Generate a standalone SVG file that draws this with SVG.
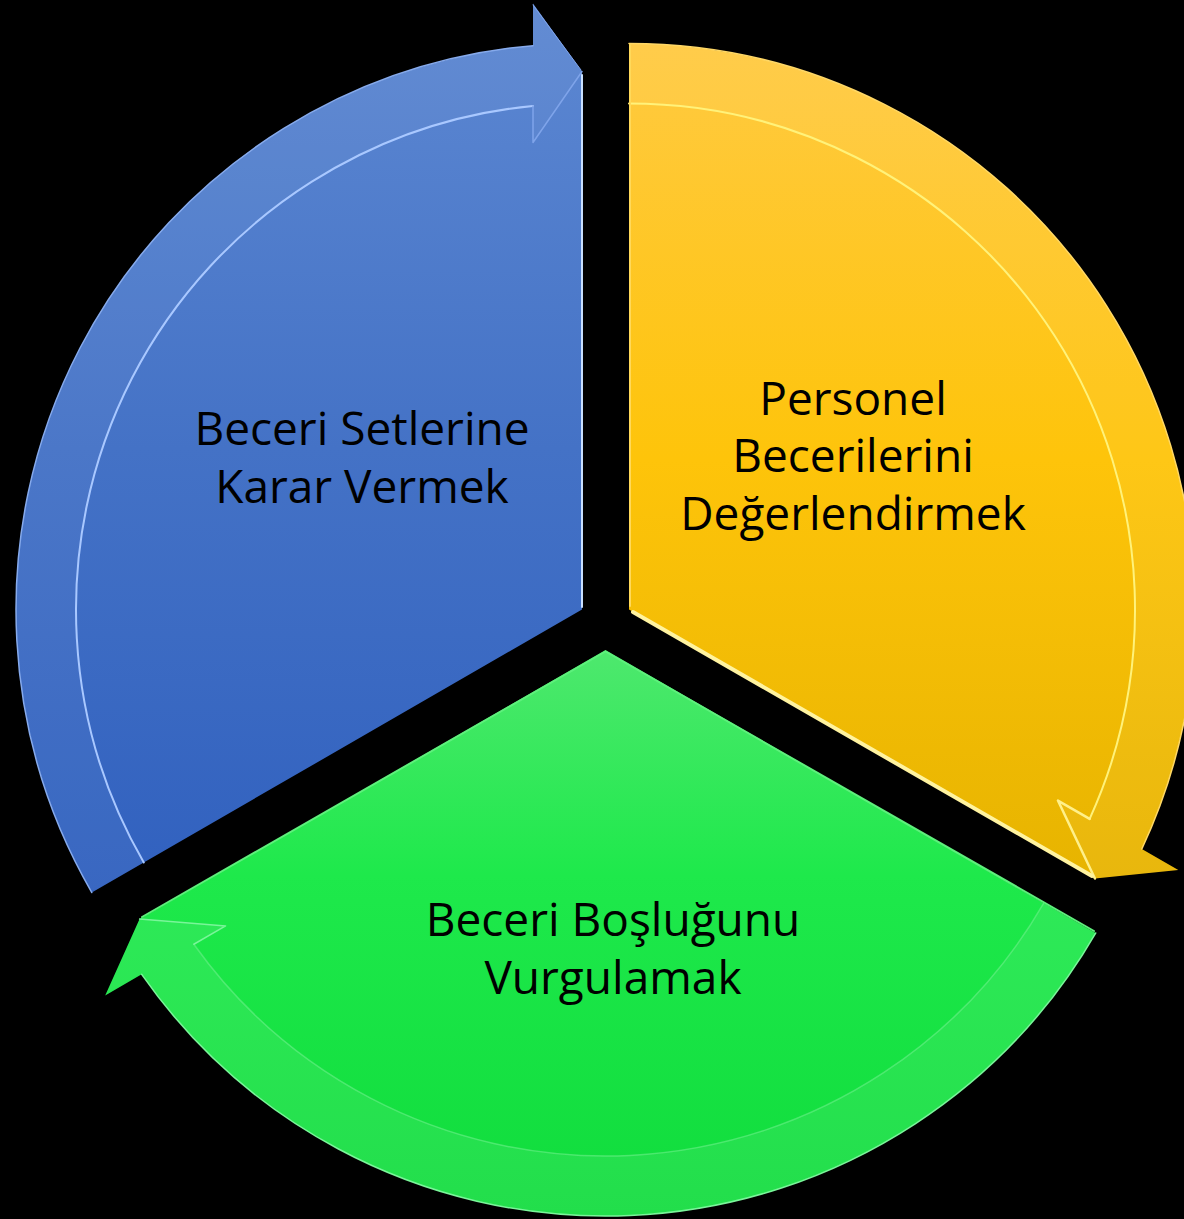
<svg xmlns="http://www.w3.org/2000/svg" width="1184" height="1219" viewBox="0 0 1184 1219">
  <defs>
    <linearGradient id="gBlue" gradientUnits="userSpaceOnUse" x1="0" y1="5" x2="0" y2="892">
      <stop offset="0" stop-color="#5d88d2"/>
      <stop offset="0.5" stop-color="#4472c6"/>
      <stop offset="1" stop-color="#3161bf"/>
    </linearGradient>
    <linearGradient id="gYellow" gradientUnits="userSpaceOnUse" x1="0" y1="42" x2="0" y2="878">
      <stop offset="0" stop-color="#ffca42"/>
      <stop offset="0.5" stop-color="#fec40a"/>
      <stop offset="1" stop-color="#e7b400"/>
    </linearGradient>
    <linearGradient id="gGreen" gradientUnits="userSpaceOnUse" x1="0" y1="650" x2="0" y2="1215">
      <stop offset="0" stop-color="#4ee86e"/>
      <stop offset="0.4" stop-color="#1ee94b"/>
      <stop offset="1" stop-color="#10dc3c"/>
    </linearGradient>
    <style>
      .label { font-family: "Open Sans", "Noto Sans", "Liberation Sans", sans-serif; font-size: 46px; fill: #000000; text-anchor: middle; }
      .band { fill: #ffffff; }
      .hl { fill: none; stroke-linecap: round; stroke-linejoin: round; }
    </style>
  </defs>
  <rect x="0" y="0" width="1184" height="1219" fill="#000000"/>

  <g id="node-blue">
    <path d="M582,609.5 L91.83,892.5 A566,566 0 0 1 533,45.63 L533,3.5 L582,71.5 Z" fill="url(#gBlue)"/>
    <path class="band" opacity="0.04" d="M91.83,892.5 A566,566 0 0 1 533,45.63 L533,3.5 L582,71.5 L533,142.5 L533,105.88 A506,506 0 0 0 143.79,862.5 Z"/>
    <path class="hl" d="M143.79,862.5 A506,506 0 0 1 533,105.88" stroke="#a9c8ff" stroke-width="2"/>
    <path class="hl" d="M91.83,892.5 A566,566 0 0 1 533,45.63" stroke="#86aaec" stroke-width="1.5"/>
    <path class="hl" d="M533,105.88 L533,142.5 L582,71.5" stroke="#7fa4ea" stroke-width="1.5"/>
    <path class="hl" d="M582,75 L582,607" stroke="#c9e0ff" stroke-width="2"/>
    <path class="hl" d="M533,5 L581,70" stroke="#7fa4ea" stroke-width="1"/>
    <text class="label" x="362" y="445">Beceri Setlerine</text>
    <text class="label" x="362" y="503">Karar Vermek</text>
  </g>

  <g id="node-yellow">
    <path d="M629,609.5 L629,43.5 A566,566 0 0 1 1141.82,849 L1178.3,870.07 L1094.93,878.5 Z" fill="url(#gYellow)"/>
    <path class="band" opacity="0.05" d="M629,43.5 A566,566 0 0 1 1141.82,849 L1178.3,870.07 L1094.93,878.5 L1057.92,800.57 L1089.65,818.88 A506,506 0 0 0 629,103.5 Z"/>
    <path class="hl" d="M629,103.5 A506,506 0 0 1 1089.65,818.88" stroke="#fff27a" stroke-width="2"/>
    <path class="hl" d="M629,43.5 A566,566 0 0 1 1141.82,849" stroke="#ffd866" stroke-width="1.5"/>
    <path class="hl" d="M1089.65,818.88 L1057.92,800.57 L1094.93,878.5" stroke="#fff08a" stroke-width="2.5"/>
    <path class="hl" d="M633,612 L1092,876" stroke="#fff3a0" stroke-width="4"/>
    <path class="hl" d="M630,45 L630,606" stroke="#ffd95a" stroke-width="2"/>
    <text class="label" x="853" y="415">Personel</text>
    <text class="label" x="853" y="472">Becerilerini</text>
    <text class="label" x="853" y="530">Değerlendirmek</text>
  </g>

  <g id="node-green">
    <path d="M605.5,650 L1095.67,933 A566,566 0 0 1 141.68,974.37 L105.2,995.43 L139.57,919 Z" fill="url(#gGreen)"/>
    <path class="band" opacity="0.08" d="M1095.67,933 A566,566 0 0 1 141.68,974.37 L105.2,995.43 L139.57,919 L225.58,925.93 L193.85,944.24 A506,506 0 0 0 1043.71,903 Z"/>
    <path class="hl" d="M1043.71,903 A506,506 0 0 1 193.85,944.24" stroke="#6cf08a" stroke-width="1.5" opacity="0.6"/>
    <path class="hl" d="M1095.67,933 A566,566 0 0 1 141.68,974.37" stroke="#7af59a" stroke-width="1.5"/>
    <path class="hl" d="M193.85,944.24 L225.58,925.93 L139.57,919" stroke="#7af59a" stroke-width="1.5"/>
    <path class="hl" d="M142,917 L605.5,651.5 L1094,931" stroke="#5ef07c" stroke-width="2"/>
    <text class="label" x="613" y="936">Beceri Boşluğunu</text>
    <text class="label" x="613" y="994">Vurgulamak</text>
  </g>

  <g id="connectors"/>
</svg>
